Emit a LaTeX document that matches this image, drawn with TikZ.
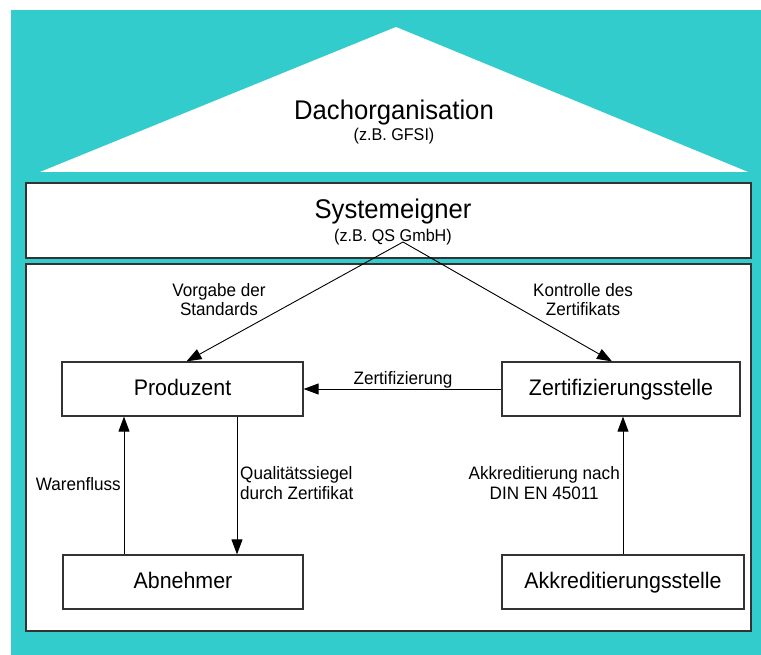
\documentclass[tikz,border=0pt]{standalone}
\usepackage{fontspec}
\setmainfont[FakeStretch=0.95]{Liberation Sans}
\usetikzlibrary{arrows.meta}
\definecolor{bgteal}{HTML}{33CCCC}
\definecolor{frame}{HTML}{333333}
\tikzset{
  panel/.style={draw=frame, line width=1.3pt, fill=white},
  unitbox/.style={draw=frame, line width=1.2pt, fill=white, minimum height=54pt, inner sep=0pt,
    text height=15pt, text depth=3pt, font=\fontsize{22.5}{24}\selectfont},
  flow/.style={draw=black, line width=0.9pt, -{Triangle[length=15pt,width=11pt]}},
  flowlabel/.style={font=\fontsize{18}{19.5}\selectfont, inner sep=0pt},
  bigtitle/.style={font=\fontsize{27}{29}\selectfont, inner sep=0pt, anchor=base},
  subtitle/.style={font=\fontsize{17}{19}\selectfont, inner sep=0pt, anchor=base}
}
\begin{document}
\begin{tikzpicture}[x=1pt,y=-1pt]
  \useasboundingbox (0,0) rectangle (761,655);
  % background
  \fill[bgteal] (11,10) rectangle (761,655);
  % roof: umbrella organisation
  \fill[white] (40,172) -- (396,27) -- (748,172) -- cycle;
  \node[bigtitle] (roof) at (394,120) {Dachorganisation};
  \node[subtitle] (roofsub) at (394,141) {(z.B. GFSI)};
  % system owner band
  \draw[panel] (26,183) rectangle (751,258);
  \node[bigtitle] (owner) at (393,219) {Systemeigner};
  \node[subtitle] (ownersub) at (393,242) {(z.B. QS GmbH)};
  % lower frame
  \draw[panel] (26,264) rectangle (751,631);
  % actors
  \node[unitbox, minimum width=241pt] (prod) at (182.5,389) {Produzent};
  \node[unitbox, minimum width=238pt] (zert) at (621,389) {Zertifizierungsstelle};
  \node[unitbox, minimum width=240pt] (abn) at (183,582) {Abnehmer};
  \node[unitbox, minimum width=242pt] (akk) at (623,582) {Akkreditierungsstelle};
  % relations
  \coordinate (apex) at (403,242);
  \draw[flow] (apex) -- ([xshift=4pt]prod.north);
  \draw[flow] (apex) -- ([xshift=-9pt]zert.north);
  \draw[flow] (zert.west) -- (prod.east);
  \draw[flow] ([xshift=-59pt]abn.north) -- ([xshift=-59pt]abn.north |- prod.south);
  \draw[flow] ([xshift=54.5pt]prod.south) -- ([xshift=54.5pt]prod.south |- abn.north);
  \draw[flow] (akk.north) -- (akk.north |- zert.south);
  % relation labels (base anchor of a two-line node sits on its last line)
  \node[flowlabel, align=center, anchor=base] (lvorgabe) at (219,316) {Vorgabe der\\Standards};
  \node[flowlabel, align=center, anchor=base] (lkontrolle) at (583,316) {Kontrolle des\\Zertifikats};
  \node[flowlabel, anchor=base] (lzert) at (403,384) {Zertifizierung};
  \node[flowlabel, anchor=base east] (lwaren) at (121,490) {Warenfluss};
  \node[flowlabel, anchor=base west, align=left] (lsiegel) at (240,499) {Qualitätssiegel\\durch Zertifikat};
  \node[flowlabel, anchor=base east, align=center] (lakk) at (620,499) {Akkreditierung nach\\DIN EN 45011};
\end{tikzpicture}
\end{document}
